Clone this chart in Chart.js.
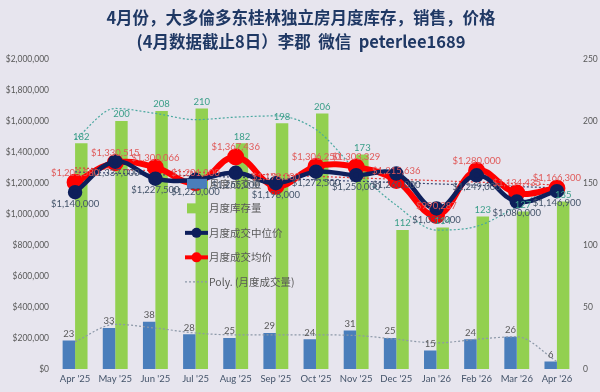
<!DOCTYPE html>
<html>
<head>
<meta charset="utf-8">
<script src="https://cdn.jsdelivr.net/npm/chart.js@4.4.1/dist/chart.umd.min.js"></script>
<style>
  html, body { margin: 0; padding: 0; background: #e7e5ee; }
  #wrap { width: 600px; height: 392px; }
</style>
</head>
<body>
<div id="wrap"><canvas id="myChart" width="600" height="392"></canvas></div>
<script>
var months = ["Apr '25", "May '25", "Jun '25", "Jul '25", "Aug '25", "Sep '25", "Oct '25",
              "Nov '25", "Dec '25", "Jan '26", "Feb '26", "Mar '26", "Apr '26"];
var inventory = [182, 200, 208, 210, 182, 198, 206, 173, 112, 114, 123, 127, 135];
var sales = [23, 33, 38, 28, 25, 29, 24, 31, 25, 15, 24, 26, 6];
var medianPrice = [1140000, 1337000, 1227500, 1220000, 1265000, 1198000, 1272500,
                   1250000, 1260000, 1035000, 1249000, 1080000, 1146900];
var avgPrice = [1203580, 1330515, 1300066, 1201000, 1367436, 1178000, 1306250,
                1303329, 1215636, 990287, 1280000, 1134435, 1166300];
// trendlines
var salesTrend = [22, 36, 33, 29, 27.5, 27.5, 27.5, 27, 24, 21, 24, 26, 6];
var inventoryTrend = [185, 210, 206, 201, 203, 204, 193, 160, 132, 112, 115, 131, 150];
var medianTrendEnds = [1271000, 1168000];
var avgTrendEnds = [1297000, 1187000];

var titleLines = ["4月份，大多倫多东桂林独立房月度库存，销售，价格",
                  "(4月数据截止8日）李郡  微信  peterlee1689"];

function ends(pair) {
  var arr = months.map(function() { return null; });
  arr[0] = pair[0];
  arr[arr.length - 1] = pair[1];
  return arr;
}

function money(v) {
  return "$" + v.toLocaleString("en-US");
}

var numFont = "Lato, 'Noto Sans', sans-serif";
var cjkFont = "'Noto Sans CJK SC', 'Noto Sans', sans-serif";

var legendBox = {
  id: "legendBox",
  afterDatasetsDraw: function(chart) {
    var ctx = chart.ctx;
    var ca = chart.chartArea;
    var x = ca.left + 130;
    var rows = [
      { text: "月度成交量", kind: "box", color: "#4a7ebb" },
      { text: "月度库存量", kind: "box", color: "#92d050" },
      { text: "月度成交中位价", kind: "line", color: "#0e1f5b" },
      { text: "月度成交均价", kind: "line", color: "#ff0000" },
      { text: "Poly. (月度成交量)", kind: "dots", color: "#8c98a8" }
    ];
    ctx.save();
    rows.forEach(function(r, i) {
      var y = ca.top + 125 + i * 24.5;
      if (r.kind === "box") {
        ctx.fillStyle = r.color;
        ctx.fillRect(x + 2, y - 5, 20, 10);
      } else if (r.kind === "line") {
        ctx.strokeStyle = r.color;
        ctx.lineWidth = 4;
        ctx.beginPath(); ctx.moveTo(x, y); ctx.lineTo(x + 23, y); ctx.stroke();
        ctx.fillStyle = r.color;
        ctx.beginPath(); ctx.arc(x + 11.5, y, 5, 0, Math.PI * 2); ctx.fill();
      } else {
        ctx.strokeStyle = r.color;
        ctx.lineWidth = 1.2;
        ctx.setLineDash([2, 2]);
        ctx.beginPath(); ctx.moveTo(x, y); ctx.lineTo(x + 23, y); ctx.stroke();
        ctx.setLineDash([]);
      }
      ctx.fillStyle = "#595959";
      ctx.font = "10.5px " + cjkFont;
      ctx.textAlign = "left";
      ctx.textBaseline = "middle";
      ctx.fillText(r.text, x + 24, y);
    });
    ctx.restore();
  }
};

var valueLabels = {
  id: "valueLabels",
  afterDatasetsDraw: function(chart) {
    var ctx = chart.ctx;
    ctx.save();
    ctx.font = "9.5px " + numFont;
    ctx.textAlign = "center";
    chart.data.datasets.forEach(function(ds, di) {
      if (!ds.valueColor) return;
      var meta = chart.getDatasetMeta(di);
      meta.data.forEach(function(el, i) {
        var v = ds.data[i];
        var text = ds.money ? money(v) : String(v);
        ctx.fillStyle = ds.valueColor;
        if (ds.valueBelow) {
          ctx.textBaseline = "top";
          ctx.fillText(text, el.x, el.y + 7);
        } else {
          ctx.textBaseline = "bottom";
          ctx.fillText(text, el.x, el.y - (ds.money ? 5 : 2));
        }
      });
    });
    ctx.restore();
  }
};

var ctx = document.getElementById("myChart").getContext("2d");
var myChart = new Chart(ctx, {
  type: "bar",
  data: {
    labels: months,
    datasets: [
      {
        type: "line", label: "月度成交中位价", data: medianPrice, yAxisID: "y",
        borderColor: "#0e1f5b", backgroundColor: "#0e1f5b", borderWidth: 4.5,
        pointRadius: 5, pointBackgroundColor: "#0e1f5b", tension: 0.4, order: 1,
        valueColor: "#44546a", valueBelow: true, money: true
      },
      {
        type: "line", label: "月度成交均价", data: avgPrice, yAxisID: "y",
        borderColor: "#ff0000", backgroundColor: "#ff0000", borderWidth: 6,
        pointRadius: 5.5, pointBackgroundColor: "#ff0000", tension: 0.4, order: 2,
        valueColor: "#e05a5a", money: true
      },
      {
        type: "line", label: "Linear (月度成交中位价)", data: ends(medianTrendEnds), yAxisID: "y",
        borderColor: "#3a4570", borderWidth: 1.2, borderDash: [2, 2], pointRadius: 0,
        spanGaps: true, order: 3
      },
      {
        type: "line", label: "Linear (月度成交均价)", data: ends(avgTrendEnds), yAxisID: "y",
        borderColor: "#e03c3c", borderWidth: 1.2, borderDash: [2, 2], pointRadius: 0,
        spanGaps: true, order: 3
      },
      {
        type: "line", label: "Poly. (月度成交量)", data: salesTrend, yAxisID: "y1",
        borderColor: "#8c98a8", borderWidth: 1.2, borderDash: [2, 2], pointRadius: 0,
        cubicInterpolationMode: "monotone", order: 4
      },
      {
        type: "line", label: "Poly. (月度库存量)", data: inventoryTrend, yAxisID: "y1",
        borderColor: "#4aa8a0", borderWidth: 1.2, borderDash: [2, 2], pointRadius: 0,
        cubicInterpolationMode: "monotone", order: 4
      },
      {
        label: "月度成交量", data: sales, yAxisID: "y1",
        backgroundColor: "#4a7ebb", order: 10,
        barPercentage: 1.0, categoryPercentage: 0.62,
        valueColor: "#595959"
      },
      {
        label: "月度库存量", data: inventory, yAxisID: "y1",
        backgroundColor: "#92d050", order: 11,
        barPercentage: 1.0, categoryPercentage: 0.62,
        valueColor: "#3a9e88"
      }
    ]
  },
  options: {
    responsive: false,
    animation: false,
    layout: { padding: { left: 4, right: 2, top: 0, bottom: 4 } },
    plugins: {
      legend: { display: false },
      tooltip: { enabled: false },
      title: {
        display: true,
        text: titleLines,
        color: "#1f3864",
        font: { size: 16.5, weight: "bold", family: cjkFont, lineHeight: 1.45 },
        padding: { top: 6, bottom: 5 }
      }
    },
    scales: {
      x: {
        grid: { display: false, drawTicks: false },
        border: { display: false },
        ticks: { color: "#44546a", font: { size: 9.5, family: numFont }, maxRotation: 0, padding: 4 },
        afterFit: function(scale) { scale.height = 19; }
      },
      y: {
        position: "left",
        min: 0, max: 2000000,
        grid: { display: false, drawTicks: false },
        border: { display: false },
        ticks: {
          stepSize: 200000, color: "#595959", font: { size: 8.5, family: numFont }, padding: 6,
          callback: function(v) { return money(v); }
        },
        afterFit: function(scale) { scale.width = 51; }
      },
      y1: {
        position: "right",
        min: 0, max: 250,
        grid: { display: false, drawTicks: false },
        border: { display: false },
        ticks: { stepSize: 50, color: "#595959", font: { size: 8.5, family: numFont }, padding: 6 },
        afterFit: function(scale) { scale.width = 21; }
      }
    }
  },
  plugins: [legendBox, valueLabels]
});
</script>
</body>
</html>
